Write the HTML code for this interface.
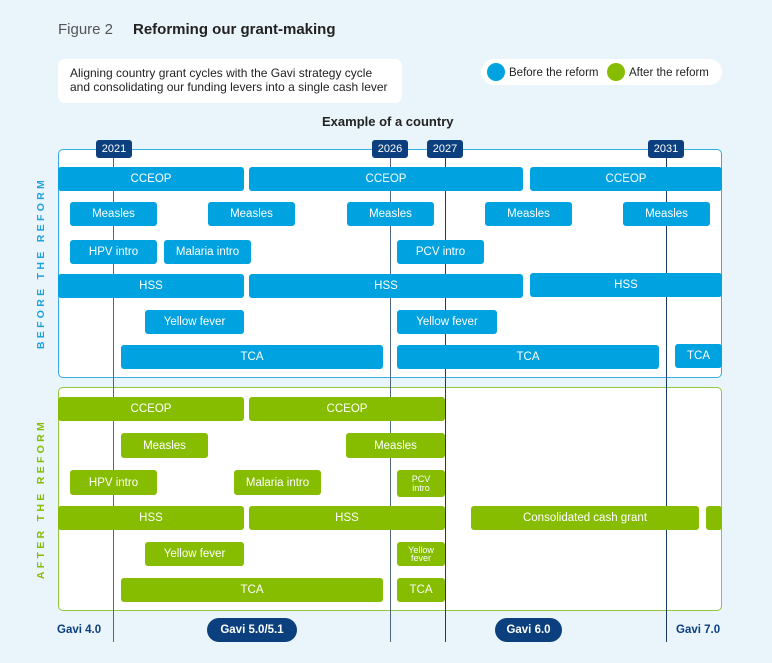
<!DOCTYPE html>
<html><head><meta charset="utf-8"><style>
*{margin:0;padding:0;box-sizing:border-box}
body{width:772px;height:663px;background:#e9f4fb;font-family:"Liberation Sans",sans-serif;position:relative;overflow:hidden}
.a{position:absolute}
.b{position:absolute;display:flex;align-items:center;justify-content:center;color:#fff;font-size:11.5px;border-radius:3px;text-align:center;white-space:nowrap}
.bl{background:#00a2df}
.gr{background:#86bd00}
.sm{font-size:9px;line-height:8.5px;white-space:normal}
.vl{position:absolute;width:1px;top:158px;height:484px}
.yr{position:absolute;top:140px;width:36px;height:18px;background:#0b3f7e;color:#fff;font-size:11px;border-radius:3px;display:flex;align-items:center;justify-content:center}
.side{position:absolute;font-size:10.5px;font-weight:bold;letter-spacing:3.3px;white-space:nowrap;transform:translate(-50%,-50%) rotate(-90deg)}
</style></head><body>

<div class="a" style="left:58px;top:21px;font-size:15px;color:#555">Figure 2</div>
<div class="a" style="left:133px;top:21px;font-size:15px;font-weight:bold;color:#222">Reforming our grant-making</div>

<div class="a" style="left:58px;top:59px;width:344px;height:44px;background:#fff;border-radius:7px"></div>
<div class="a" style="left:70px;top:65.5px;font-size:12px;line-height:14.5px;color:#222">Aligning country grant cycles with the Gavi strategy cycle<br>and consolidating our funding levers into a single cash lever</div>

<div class="a" style="left:481px;top:59px;width:241px;height:26px;background:#fff;border-radius:13px"></div>
<div class="a" style="left:487px;top:63px;width:18px;height:18px;border-radius:50%;background:#00a2df"></div>
<div class="a" style="left:509px;top:66.5px;font-size:11.5px;color:#222">Before the reform</div>
<div class="a" style="left:607px;top:63px;width:18px;height:18px;border-radius:50%;background:#86bd00"></div>
<div class="a" style="left:629px;top:66.5px;font-size:11.5px;color:#222">After the reform</div>

<div class="a" style="left:322px;top:114px;font-size:13px;font-weight:bold;color:#222">Example of a country</div>

<!-- frames -->
<div class="a" style="left:58px;top:149px;width:664px;height:229px;background:#fff;border:1.5px solid #35ace4;border-radius:5px"></div>
<div class="a" style="left:58px;top:387px;width:664px;height:224px;background:#fff;border:1.5px solid #93c63a;border-radius:5px"></div>

<!-- vertical lines -->
<div class="vl" style="left:113px;background:#4f6680"></div>
<div class="vl" style="left:390px;background:#4f6680"></div>
<div class="vl" style="left:445px;background:#173b64"></div>
<div class="vl" style="left:666px;background:#173b64"></div>

<!-- year labels -->
<div class="yr" style="left:96px">2021</div>
<div class="yr" style="left:372px">2026</div>
<div class="yr" style="left:427px">2027</div>
<div class="yr" style="left:648px">2031</div>

<!-- side labels -->
<div class="side" style="left:41px;top:263px;color:#1fa3df">BEFORE THE REFORM</div>
<div class="side" style="left:41px;top:499px;color:#86bd00">AFTER THE REFORM</div>

<!-- BEFORE bars -->
<div class="b bl" style="left:58px;top:167px;width:186px;height:24px">CCEOP</div>
<div class="b bl" style="left:249px;top:167px;width:274px;height:24px">CCEOP</div>
<div class="b bl" style="left:530px;top:167px;width:192px;height:24px">CCEOP</div>

<div class="b bl" style="left:70px;top:202px;width:87px;height:24px">Measles</div>
<div class="b bl" style="left:208px;top:202px;width:87px;height:24px">Measles</div>
<div class="b bl" style="left:347px;top:202px;width:87px;height:24px">Measles</div>
<div class="b bl" style="left:485px;top:202px;width:87px;height:24px">Measles</div>
<div class="b bl" style="left:623px;top:202px;width:87px;height:24px">Measles</div>

<div class="b bl" style="left:70px;top:240px;width:87px;height:24px">HPV intro</div>
<div class="b bl" style="left:164px;top:240px;width:87px;height:24px">Malaria intro</div>
<div class="b bl" style="left:397px;top:240px;width:87px;height:24px">PCV intro</div>

<div class="b bl" style="left:58px;top:274px;width:186px;height:24px">HSS</div>
<div class="b bl" style="left:249px;top:274px;width:274px;height:24px">HSS</div>
<div class="b bl" style="left:530px;top:273px;width:192px;height:24px">HSS</div>

<div class="b bl" style="left:145px;top:310px;width:99px;height:24px">Yellow fever</div>
<div class="b bl" style="left:397px;top:310px;width:100px;height:24px">Yellow fever</div>

<div class="b bl" style="left:121px;top:345px;width:262px;height:24px">TCA</div>
<div class="b bl" style="left:397px;top:345px;width:262px;height:24px">TCA</div>
<div class="b bl" style="left:675px;top:344px;width:47px;height:24px">TCA</div>

<!-- AFTER bars -->
<div class="b gr" style="left:58px;top:397px;width:186px;height:24px">CCEOP</div>
<div class="b gr" style="left:249px;top:397px;width:196px;height:24px">CCEOP</div>

<div class="b gr" style="left:121px;top:433px;width:87px;height:25px">Measles</div>
<div class="b gr" style="left:346px;top:433px;width:99px;height:25px">Measles</div>

<div class="b gr" style="left:70px;top:470px;width:87px;height:25px">HPV intro</div>
<div class="b gr" style="left:234px;top:470px;width:87px;height:25px">Malaria intro</div>
<div class="b gr sm" style="left:397px;top:470px;width:48px;height:27px">PCV<br>intro</div>

<div class="b gr" style="left:58px;top:506px;width:186px;height:24px">HSS</div>
<div class="b gr" style="left:249px;top:506px;width:196px;height:24px">HSS</div>
<div class="b gr" style="left:471px;top:506px;width:228px;height:24px">Consolidated cash grant</div>
<div class="b gr" style="left:706px;top:506px;width:16px;height:24px"></div>

<div class="b gr" style="left:145px;top:542px;width:99px;height:24px">Yellow fever</div>
<div class="b gr sm" style="left:397px;top:542px;width:48px;height:24px">Yellow<br>fever</div>

<div class="b gr" style="left:121px;top:578px;width:262px;height:24px">TCA</div>
<div class="b gr" style="left:397px;top:578px;width:48px;height:24px">TCA</div>

<!-- bottom labels -->
<div class="a" style="left:57px;top:624px;font-size:11.5px;font-weight:bold;color:#0b3f7e">Gavi 4.0</div>
<div class="b" style="left:207px;top:618px;width:90px;height:24px;background:#0b3f7e;border-radius:12px;font-weight:bold">Gavi 5.0/5.1</div>
<div class="b" style="left:495px;top:618px;width:67px;height:24px;background:#0b3f7e;border-radius:12px;font-weight:bold">Gavi 6.0</div>
<div class="a" style="left:676px;top:624px;font-size:11.5px;font-weight:bold;color:#0b3f7e">Gavi 7.0</div>

</body></html>
